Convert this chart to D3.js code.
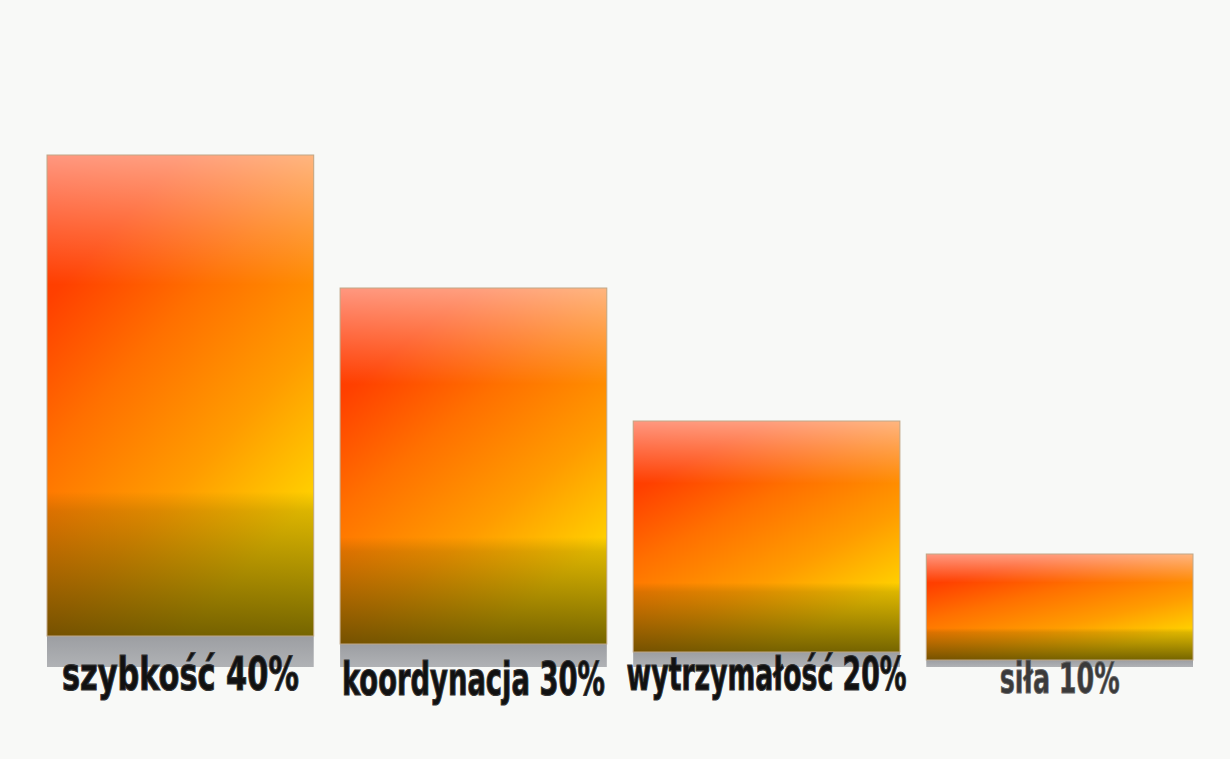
<!DOCTYPE html>
<html>
<head>
<meta charset="utf-8">
<script src="https://cdn.jsdelivr.net/npm/d3@7"></script>
<style>
  body { margin: 0; background: #f8f9f7; }
  svg { display: block; }
  .label { font-family: "DejaVu Sans Condensed", "Liberation Sans Narrow", "Liberation Sans", sans-serif; font-weight: bold; }
</style>
</head>
<body>
<script>
// chart data
var categories = ["szybkość", "koordynacja", "wytrzymałość", "siła"];
var values = [40, 30, 20, 10];
var labels = ["szybkość 40%", "koordynacja 30%", "wytrzymałość 20%", "siła 10%"];

// label styling (kept apart from the data)
var labelWidth = [237, 263, 280, 120];
var labelSize = [47, 47, 47, 42];
var labelDy = [54, 51, 38, 33];

function main() {
    var width = 1230,
        height = 759;

    var svg = d3.select("body")
        .append("svg")
        .attr("width", width)
        .attr("height", height);

    svg.append("rect")
        .attr("width", width)
        .attr("height", height)
        .attr("fill", "#f8f9f7");

    var defs = svg.append("defs");

    // base colour: red at upper left, yellow at lower right
    var base = defs.append("linearGradient")
        .attr("id", "baseGrad")
        .attr("x1", 0).attr("y1", 0)
        .attr("x2", 0.706).attr("y2", 1.176);
    base.append("stop").attr("offset", 0).attr("stop-color", "#ff3000");
    base.append("stop").attr("offset", 0.19).attr("stop-color", "#ff4000");
    base.append("stop").attr("offset", 0.39).attr("stop-color", "#ff7000");
    base.append("stop").attr("offset", 0.62).attr("stop-color", "#ff9c00");
    base.append("stop").attr("offset", 0.82).attr("stop-color", "#ffd000");
    base.append("stop").attr("offset", 1).attr("stop-color", "#ffe000");

    // light top / dark bottom overlay
    var shade = defs.append("linearGradient")
        .attr("id", "shadeGrad")
        .attr("x1", 0).attr("y1", 0)
        .attr("x2", 0).attr("y2", 1);
    shade.append("stop").attr("offset", 0).attr("stop-color", "#ffffff").attr("stop-opacity", 0.5);
    shade.append("stop").attr("offset", 0.27).attr("stop-color", "#ffffff").attr("stop-opacity", 0);
    shade.append("stop").attr("offset", 0.7).attr("stop-color", "#3a3000").attr("stop-opacity", 0);
    shade.append("stop").attr("offset", 0.74).attr("stop-color", "#3a3000").attr("stop-opacity", 0.18);
    shade.append("stop").attr("offset", 1).attr("stop-color", "#3a3000").attr("stop-opacity", 0.7);

    // grey floor under bars
    var floorGrad = defs.append("linearGradient")
        .attr("id", "floorGrad")
        .attr("x1", 0).attr("y1", 0)
        .attr("x2", 0).attr("y2", 1);
    floorGrad.append("stop").attr("offset", 0).attr("stop-color", "#9c9ea2");
    floorGrad.append("stop").attr("offset", 1).attr("stop-color", "#b0b2b5");

    var x = d3.scaleBand()
        .domain(categories)
        .range([47, 1193])
        .paddingInner(0.09);

    // the picture is slightly tilted: baselines drop to the right
    var baseY = d3.scaleLinear()
        .domain([0, categories.length - 1])
        .range([636, 660]);

    var h = d3.scaleLinear()
        .domain([10, 40])
        .range([106, 481]);

    var floorBottom = 667;

    var g = svg.selectAll("g.bar")
        .data(values)
        .enter()
        .append("g")
        .attr("class", "bar");

    g.append("rect")
        .attr("x", function (d, i) { return x(categories[i]); })
        .attr("y", function (d, i) { return baseY(i); })
        .attr("width", x.bandwidth())
        .attr("height", function (d, i) { return floorBottom - baseY(i); })
        .attr("fill", "url(#floorGrad)");

    g.append("rect")
        .attr("x", function (d, i) { return x(categories[i]); })
        .attr("y", function (d, i) { return baseY(i) - h(d); })
        .attr("width", x.bandwidth())
        .attr("height", function (d) { return h(d); })
        .attr("fill", "url(#baseGrad)");

    g.append("rect")
        .attr("x", function (d, i) { return x(categories[i]); })
        .attr("y", function (d, i) { return baseY(i) - h(d); })
        .attr("width", x.bandwidth())
        .attr("height", function (d) { return h(d); })
        .attr("fill", "url(#shadeGrad)")
        .attr("stroke", "#c0a888")
        .attr("stroke-width", 1);

    // labels: condensed horizontally to fit the measured width
    g.append("text")
        .attr("class", "label")
        .attr("text-anchor", "middle")
        .attr("font-size", function (d, i) { return labelSize[i]; })
        .attr("fill", function (d, i) { return i == 3 ? "#3a3a3a" : "#111"; })
        .attr("stroke", function (d, i) { return i == 3 ? "#666" : "#333"; })
        .attr("stroke-width", function (d, i) { return i == 3 ? 0.8 : 1.2; })
        .text(function (d, i) { return labels[i]; })
        .attr("transform", function (d, i) {
            var cx = x(categories[i]) + x.bandwidth() / 2;
            var cy = baseY(i) + labelDy[i];
            var k = labelWidth[i] / this.getComputedTextLength();
            return "translate(" + cx + "," + cy + ") scale(" + k + ",1)";
        });
}

window.onload = main;
</script>
</body>
</html>
